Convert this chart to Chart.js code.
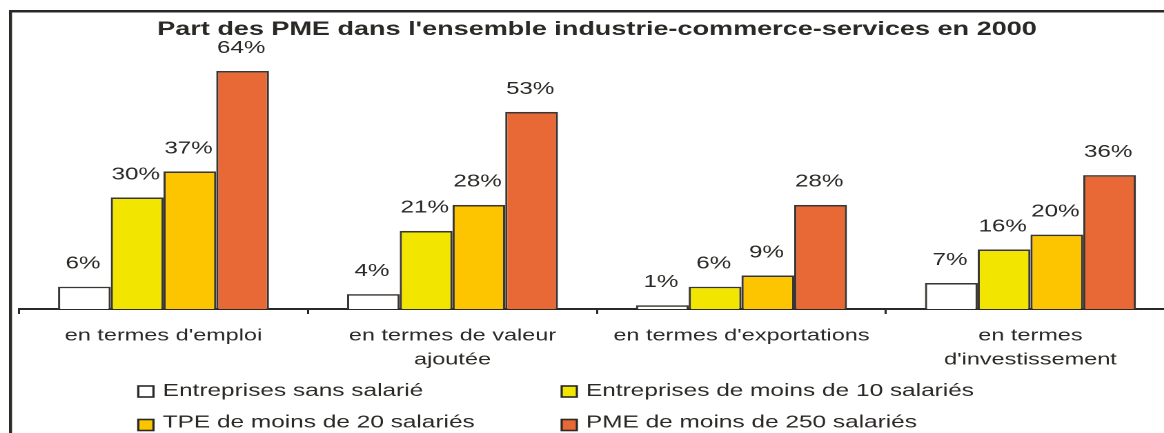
<!DOCTYPE html>
<html><head><meta charset="utf-8">
<script src="https://cdn.jsdelivr.net/npm/chart.js@4/dist/chart.umd.min.js"></script>
<style>
html,body{margin:0;padding:0;background:#fff;overflow:hidden;width:1164px;height:433px;}
#wrap{position:absolute;left:0;top:0;width:856px;height:433px;transform:scaleX(1.38);transform-origin:0 0;}
canvas{display:block;}
</style></head><body>
<div id="wrap"><canvas id="c" width="856" height="433"></canvas></div>
<script>
const titleText = "Part des PME dans l'ensemble industrie-commerce-services en 2000";
const categories = ["en termes d'emploi", ["en termes de valeur", "ajoutée"], "en termes d'exportations", ["en termes", "d'investissement"]];
const seriesNames = ["Entreprises sans salarié", "Entreprises de moins de 10 salariés", "TPE de moins de 20 salariés", "PME de moins de 250 salariés"];
const sansSalarie = [6, 4, 1, 7];
const moins10 = [30, 21, 6, 16];
const tpe20 = [37, 28, 9, 20];
const pme250 = [64, 53, 28, 36];

const FONT = "'Liberation Sans', Arial, sans-serif";
const INK = '#2b2926';
const fills = ['#ffffff', '#f2e500', '#fcc500', '#e96936'];

const frame = {
  id: 'frame',
  beforeDraw(chart) {
    const ctx = chart.ctx;
    ctx.save();
    ctx.strokeStyle = INK;
    ctx.lineWidth = 2.2;
    ctx.beginPath();
    ctx.moveTo(7.6, 10);
    ctx.lineTo(7.6, chart.height);
    ctx.stroke();
    ctx.lineWidth = 2.5;
    ctx.beginPath();
    ctx.moveTo(6.5, 11.25);
    ctx.lineTo(chart.width, 11.25);
    ctx.stroke();
    ctx.restore();
  }
};

const valueLabels = {
  id: 'valueLabels',
  afterDatasetsDraw(chart) {
    const ctx = chart.ctx;
    ctx.save();
    ctx.font = '17.5px ' + FONT;
    ctx.fillStyle = INK;
    ctx.textAlign = 'center';
    ctx.textBaseline = 'middle';
    chart.data.datasets.forEach((ds, i) => {
      chart.getDatasetMeta(i).data.forEach((bar, j) => {
        ctx.fillText(ds.data[j] + '%', bar.x - 1, bar.y - 23);
      });
    });
    ctx.restore();
  }
};

const gridLegend = {
  id: 'gridLegend',
  afterDraw(chart) {
    const ctx = chart.ctx;
    const colBox = [100.2, 407];
    const colText = [117.9, 424.6];
    const rowBoxTop = [386, 419.5];
    const rowBase = [396, 427.3];
    ctx.save();
    ctx.font = '17.7px ' + FONT;
    ctx.textAlign = 'left';
    ctx.textBaseline = 'alphabetic';
    chart.data.datasets.forEach((ds, i) => {
      const c = i % 2, r = Math.floor(i / 2);
      ctx.fillStyle = ds.backgroundColor;
      ctx.fillRect(colBox[c], rowBoxTop[r], 11, 11);
      ctx.strokeStyle = INK;
      ctx.lineWidth = 1.6;
      ctx.strokeRect(colBox[c], rowBoxTop[r], 11, 11);
      ctx.fillStyle = INK;
      ctx.fillText(ds.label, colText[c], rowBase[r]);
    });
    ctx.restore();
  }
};

const seriesValues = [sansSalarie, moins10, tpe20, pme250];

new Chart(document.getElementById('c'), {
  type: 'bar',
  data: {
    labels: categories,
    datasets: seriesValues.map((vals, i) => ({
      label: seriesNames[i],
      data: vals,
      backgroundColor: fills[i],
      borderColor: '#3a3632',
      borderWidth: 1.6,
      categoryPercentage: 0.73,
      barPercentage: 1.0
    }))
  },
  options: {
    responsive: false,
    animation: false,
    devicePixelRatio: 2,
    layout: { padding: { left: 13.77, right: 4.6, top: 0, bottom: 0 } },
    plugins: {
      legend: { display: false },
      tooltip: { enabled: false },
      title: {
        display: true,
        text: titleText,
        color: INK,
        font: { family: FONT, size: 19.6, weight: 'bold', lineHeight: 1.2 },
        padding: { top: 17.6, bottom: 7.6 }
      }
    },
    scales: {
      x: {
        grid: { offset: true, drawOnChartArea: false, tickLength: 5, color: INK, lineWidth: 1.5 },
        border: { color: INK, width: 2 },
        ticks: {
          color: INK,
          font: { family: FONT, size: 17, lineHeight: 1.4 },
          padding: 10,
          maxRotation: 0,
          autoSkip: false
        },
        afterFit(s) { s.height = 124; }
      },
      y: { display: false, min: 0, max: 70 }
    }
  },
  plugins: [frame, valueLabels, gridLegend]
});
</script>
</body></html>
